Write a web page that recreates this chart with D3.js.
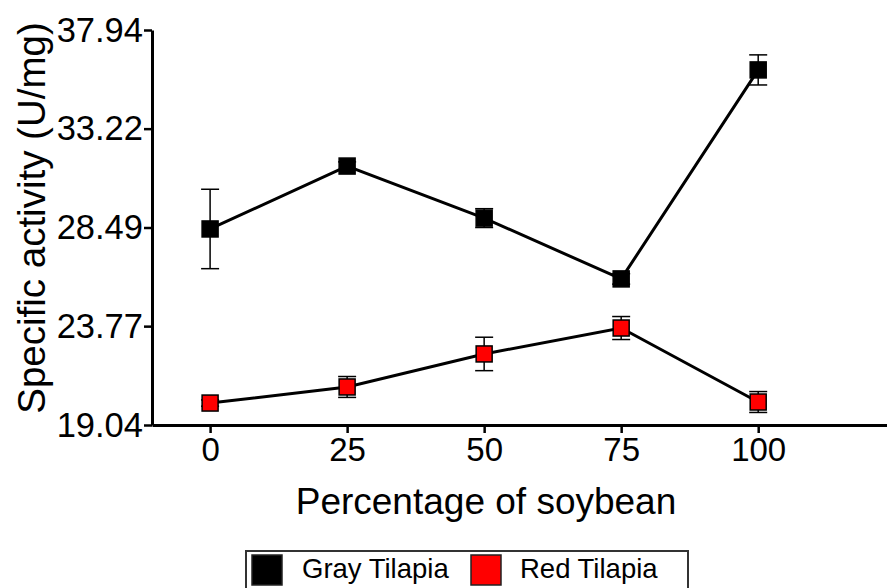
<!DOCTYPE html>
<html>
<head>
<meta charset="utf-8">
<script src="https://cdn.jsdelivr.net/npm/d3@7"></script>
<style>
  body { margin:0; background:#fff; }
  text { font-family: "Liberation Sans", Arial, sans-serif; fill:#000; }
</style>
</head>
<body>
<div id="chart"></div>
<script>
// soybean levels on x, one list per fish
const soy = [0, 25, 50, 75, 100];
const grayMean = [28.42, 31.43, 28.94, 26.03, 36.03];
const grayErr  = [1.9, 0.2, 0.45, 0.25, 0.72];
const redMean  = [20.09, 20.86, 22.44, 23.68, 20.14];
const redErr   = [0.15, 0.5, 0.8, 0.55, 0.5];
const yTicks = [19.04, 23.77, 28.49, 33.22, 37.94];

const w = 887, h = 588;
const svg = d3.select("#chart").append("svg").attr("width", w).attr("height", h);

const x = d3.scaleLinear().domain([-10.6, 123.5]).range([152, 887]);
const y = d3.scaleLinear().domain([19.04, 37.94]).range([425, 30]);

// axes: thick black lines, ticks outward
const gx = svg.append("g").attr("transform", `translate(0,${y(19.04)})`)
  .call(d3.axisBottom(x).tickValues(soy).tickSize(8).tickSizeOuter(0).tickPadding(5).tickFormat(d3.format("d")));
const gy = svg.append("g").attr("transform", `translate(${x(-10.6)},0)`)
  .call(d3.axisLeft(y).tickValues(yTicks).tickSize(8).tickSizeOuter(0).tickPadding(1).tickFormat(d3.format(".2f")));

[gx, gy].forEach(a => {
  a.select(".domain").attr("stroke", "#000").attr("stroke-width", 3);
  a.selectAll(".tick line").attr("stroke", "#000").attr("stroke-width", 2.5);
  a.selectAll(".tick text").attr("fill", "#000").style("font-family", "Liberation Sans, Arial, sans-serif");
});
gx.selectAll(".tick text").style("font-size", "33px");
gy.selectAll(".tick text").style("font-size", "34.5px");

// axis titles
svg.append("text").attr("x", 486).attr("y", 514).attr("text-anchor", "middle")
  .style("font-size", "37px").text("Percentage of soybean");
svg.append("text").attr("transform", "translate(45,218) rotate(-90)").attr("text-anchor", "middle")
  .style("font-size", "38.5px").text("Specific activity (U/mg)");

const line = d3.line().x((d, i) => x(soy[i])).y(d => y(d));

function drawSeries(mean, err, fill) {
  const g = svg.append("g");
  g.append("path").datum(mean).attr("d", line)
    .attr("fill", "none").attr("stroke", "#000").attr("stroke-width", 3);
  // error bars
  const eb = g.selectAll(".eb").data(mean).enter().append("g");
  eb.append("line")
    .attr("x1", (d, i) => x(soy[i])).attr("x2", (d, i) => x(soy[i]))
    .attr("y1", (d, i) => y(d + err[i])).attr("y2", (d, i) => y(d - err[i]))
    .attr("stroke", "#000").attr("stroke-width", 1.5);
  [1, -1].forEach(s => {
    eb.append("line")
      .attr("x1", (d, i) => x(soy[i]) - 9).attr("x2", (d, i) => x(soy[i]) + 9)
      .attr("y1", (d, i) => y(d + s * err[i])).attr("y2", (d, i) => y(d + s * err[i]))
      .attr("stroke", "#000").attr("stroke-width", 1.5);
  });
  g.selectAll("rect").data(mean).enter().append("rect")
    .attr("x", (d, i) => x(soy[i]) - 8).attr("y", d => y(d) - 8)
    .attr("width", 16).attr("height", 16)
    .attr("fill", fill).attr("stroke", "#000").attr("stroke-width", 1.5);
}
drawSeries(grayMean, grayErr, "#000");
drawSeries(redMean, redErr, "#ff0000");

// legend box at bottom, runs off the page
const lg = svg.append("g");
lg.append("rect").attr("x", 246).attr("y", 551).attr("width", 442).attr("height", 60)
  .attr("fill", "#fff").attr("stroke", "#333").attr("stroke-width", 2);
const items = [["Gray Tilapia", "#000", 252, 302], ["Red Tilapia", "#ff0000", 471, 520]];
items.forEach(([name, col, sx, tx]) => {
  lg.append("rect").attr("x", sx).attr("y", 555).attr("width", 30).attr("height", 30)
    .attr("fill", col).attr("stroke", "#222").attr("stroke-width", 1.5);
  lg.append("text").attr("x", tx).attr("y", 578).style("font-size", "27.5px").attr("fill", "#111").text(name);
});
</script>
</body>
</html>
